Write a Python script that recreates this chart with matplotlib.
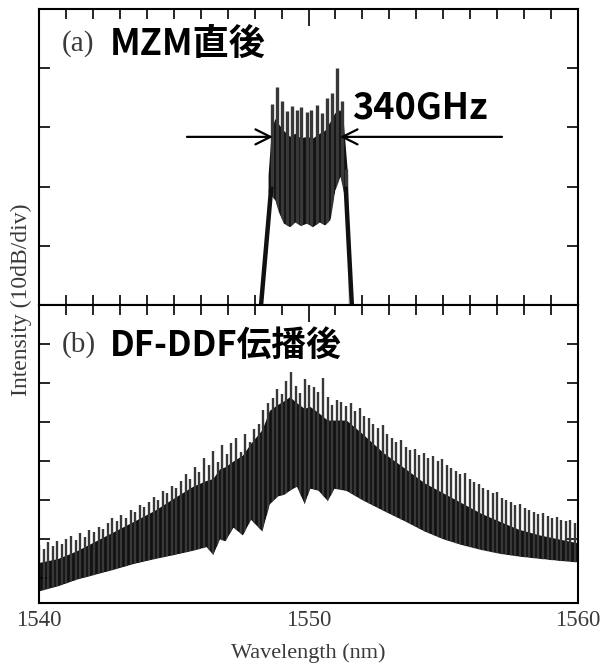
import numpy as np
import matplotlib
matplotlib.use('Agg')
import matplotlib.pyplot as plt

# ---------------- data ----------------
x_major_ticks = [1540, 1550, 1560]
x_tick_labels = ['1540', '1550', '1560']

# (a) directly after the MZM : comb lines (wavelength nm, peak dB)
a_line_wl = [1548.63, 1548.82, 1549.00, 1549.19, 1549.37, 1549.56, 1549.74, 1549.93,
             1550.11, 1550.30, 1550.49, 1550.67, 1550.86, 1551.04, 1551.23, 1551.41]
a_line_peak = [-16.0, -13.1, -15.5, -17.3, -16.4, -17.0, -16.6, -17.4,
               -17.0, -16.2, -17.5, -15.0, -14.2, -10.0, -15.5, -27.0]
# dense (black) part of the spectrum
a_band_wl = [1548.50, 1548.62, 1548.75, 1548.90, 1549.07, 1549.30, 1549.50, 1549.70, 1549.93,
             1550.15, 1550.40, 1550.60, 1550.80, 1550.98, 1551.17, 1551.30, 1551.45]
a_band_low = [-31.0, -31.5, -32.3, -34.5, -36.2, -36.8, -36.0, -36.6, -36.2,
              -36.8, -36.0, -36.5, -35.6, -30.6, -28.3, -31.0, -34.0]
a_band_high = [-28.0, -20.5, -18.5, -19.5, -20.5, -21.5, -21.0, -21.8, -21.5,
               -21.8, -21.0, -20.5, -19.0, -17.5, -17.0, -19.5, -28.0]
# steep spectral edges
a_edge_left_wl = [1548.22, 1548.62]
a_edge_left_db = [-51.0, -30.0]
a_edge_right_wl = [1551.38, 1551.62]
a_edge_right_db = [-30.0, -51.0]
# 340 GHz bandwidth arrows
a_arrow_left = (1545.49, 1548.68)
a_arrow_right = (1557.18, 1551.17)
a_arrow_db = -21.6

# (b) after DF-DDF propagation : comb lines
b_comb_start = 1540.0
b_comb_step = 0.17
b_line_peak = [
    -61.5, -62.5, -60.8, -61.9, -60.5, -61.2,
    -60.0, -59.2, -60.3, -58.5, -59.4, -57.6,
    -58.1, -56.8, -57.5, -55.9, -54.6, -55.3,
    -53.8, -54.5, -52.6, -53.1, -51.2, -51.9,
    -50.4, -49.1, -49.9, -47.8, -48.3, -46.5,
    -46.9, -45.0, -43.2, -44.6, -41.5, -42.8,
    -39.2, -41.0, -37.5, -40.2, -36.0, -38.1,
    -35.5, -34.0, -37.8, -33.0, -35.2, -31.8,
    -30.5, -27.0, -25.2, -23.8, -21.5, -22.8,
    -19.6, -17.3, -20.8, -22.5, -19.0, -20.4,
    -21.0, -22.4, -18.8, -23.5, -25.6, -24.4,
    -24.8, -26.0, -25.1, -27.3, -26.4, -28.5,
    -29.0, -30.5, -31.6, -30.8, -33.0, -34.2,
    -35.1, -34.6, -36.4, -37.2, -36.8, -38.4,
    -38.0, -39.3, -38.7, -40.1, -39.6, -41.0,
    -41.8, -42.5, -43.3, -43.0, -44.6, -45.4,
    -46.0, -46.8, -47.5, -48.3, -48.0, -49.4,
    -50.0, -50.6, -51.2, -51.0, -52.1, -52.6,
    -53.0, -53.5, -53.2, -54.1, -54.6, -54.3,
    -55.0, -55.4, -55.1, -55.8]
b_band_wl = [1540.0, 1540.7, 1541.4, 1542.1, 1542.8, 1543.5, 1544.3, 1545.0, 1545.7, 1546.2,
             1546.45, 1546.7, 1546.9, 1547.2, 1547.55, 1547.85, 1548.27, 1548.55, 1548.85, 1549.1,
             1549.3, 1549.55, 1549.84, 1550.05, 1550.35, 1550.7, 1550.95, 1551.4, 1552.0, 1552.8,
             1553.6, 1554.3, 1555.0, 1555.7, 1556.4, 1557.1, 1557.8, 1558.6, 1559.3, 1560.0]
b_band_low = [-73.3, -72.0, -70.3, -69.0, -67.7, -66.3, -65.0, -64.0, -62.9, -62.0,
              -64.0, -60.0, -60.5, -57.0, -59.0, -55.0, -58.0, -51.0, -49.0, -48.5,
              -47.5, -46.5, -51.0, -47.0, -47.5, -50.2, -47.0, -47.6, -50.0, -52.8,
              -55.5, -58.0, -60.0, -61.5, -62.7, -63.7, -64.4, -65.0, -65.5, -65.9]
b_band_high = [-66.0, -65.0, -63.0, -60.5, -58.0, -55.5, -52.6, -49.5, -46.5, -45.0,
               -44.5, -42.0, -41.5, -40.0, -38.5, -35.5, -32.0, -27.0, -25.5, -24.5,
               -23.5, -25.0, -26.5, -26.0, -27.5, -29.5, -29.5, -29.5, -33.0, -38.0,
               -42.0, -45.6, -48.2, -50.8, -53.4, -55.5, -57.5, -59.0, -60.0, -61.0]

# ---------------- figure ----------------
W, H = 603, 669
fig = plt.figure(figsize=(W / 100, H / 100), dpi=100)
L, R = 39, 578
ax_a = fig.add_axes([L / W, 1 - 305 / H, (R - L) / W, (305 - 9) / H])
ax_b = fig.add_axes([L / W, 1 - 603 / H, (R - L) / W, (603 - 305) / H])

serif = 'Liberation Serif'
cjk = ['Noto Sans CJK JP', 'DejaVu Sans']
label_col = '#3a3a3a'
band_col = '#111111'
spike_col = '#383838'


def draw_spectrum(ax, line_wl, line_peak, band_wl, band_low, band_high, ybot, lw):
    ax.vlines(line_wl, ybot, line_peak, color=spike_col, lw=lw, zorder=1.6)
    ax.fill_between(band_wl, band_low, band_high, color=band_col, lw=0, zorder=1.5)
    ax.fill_between(band_wl, ybot, band_low, color='white', lw=0, zorder=1.8)


# (a)
ya = (-50, 0)
draw_spectrum(ax_a, a_line_wl, a_line_peak, a_band_wl, a_band_low, a_band_high, ya[0], 2.4)
ax_a.plot(a_edge_left_wl, a_edge_left_db, color=band_col, lw=3.2, zorder=1.9, solid_capstyle='butt')
ax_a.plot(a_edge_right_wl, a_edge_right_db, color=band_col, lw=3.2, zorder=1.9, solid_capstyle='butt')
ax_a.set_ylim(*ya)
ax_a.set_yticks([-40, -30, -20, -10])
for x0, x1 in (a_arrow_left, a_arrow_right):
    ax_a.annotate('', xy=(x1, a_arrow_db), xytext=(x0, a_arrow_db),
                  arrowprops=dict(arrowstyle='->, head_length=0.4, head_width=0.2',
                                  lw=1.6, color='black', mutation_scale=27,
                                  shrinkA=0, shrinkB=0), zorder=4)
ax_a.text(0.581, 0.666, '340GHz', transform=ax_a.transAxes, ha='left', va='center',
          family=cjk, fontweight='bold', fontsize=26, color='black', zorder=5)
ax_a.text(0.0427, 0.885, '(a)', transform=ax_a.transAxes, ha='left', va='center',
          family=serif, fontsize=21, color=label_col)
ax_a.text(0.132, 0.882, 'MZM直後', transform=ax_a.transAxes, ha='left', va='center',
          family=cjk, fontweight='bold', fontsize=26, color='black')

# (b)
yb = (-76.4, 0)
b_line_wl = b_comb_start + b_comb_step * np.arange(len(b_line_peak))
draw_spectrum(ax_b, b_line_wl, b_line_peak, b_band_wl, b_band_low, b_band_high, yb[0], 1.7)
ax_b.set_ylim(*yb)
ax_b.set_yticks([-70, -60, -50, -40, -30, -20, -10])
ax_b.text(0.0427, 0.866, '(b)', transform=ax_b.transAxes, ha='left', va='center',
          family=serif, fontsize=21, color=label_col)
ax_b.text(0.132, 0.863, 'DF-DDF伝播後', transform=ax_b.transAxes, ha='left', va='center',
          family=cjk, fontweight='bold', fontsize=25, color='black')

for ax in (ax_a, ax_b):
    ax.set_xlim(1540, 1560)
    ax.set_xticks(x_major_ticks)
    ax.set_xticks(np.arange(1541, 1560, 1), minor=True)
    ax.tick_params(which='both', direction='in', top=True, right=True, width=1.2,
                   labelleft=False, color='black')
    ax.tick_params(axis='x', which='major', length=12)
    ax.tick_params(axis='x', which='minor', length=7)
    ax.tick_params(axis='y', which='major', length=8)
    for s in ax.spines.values():
        s.set_linewidth(1.5)
        s.set_zorder(3)

ax_a.tick_params(labelbottom=False)
ax_b.set_xticklabels(x_tick_labels, family=serif, fontsize=16.5, color=label_col)
ax_b.tick_params(axis='x', which='major', pad=5)
ax_b.set_xlabel('Wavelength (nm)', family=serif, fontsize=16, color=label_col, labelpad=9)
fig.text(21 / W, 1 - 300 / H, 'Intensity (10dB/div)', rotation=90, ha='center', va='center',
         family=serif, fontsize=17, color=label_col)

fig.savefig('out.png', dpi=100)
